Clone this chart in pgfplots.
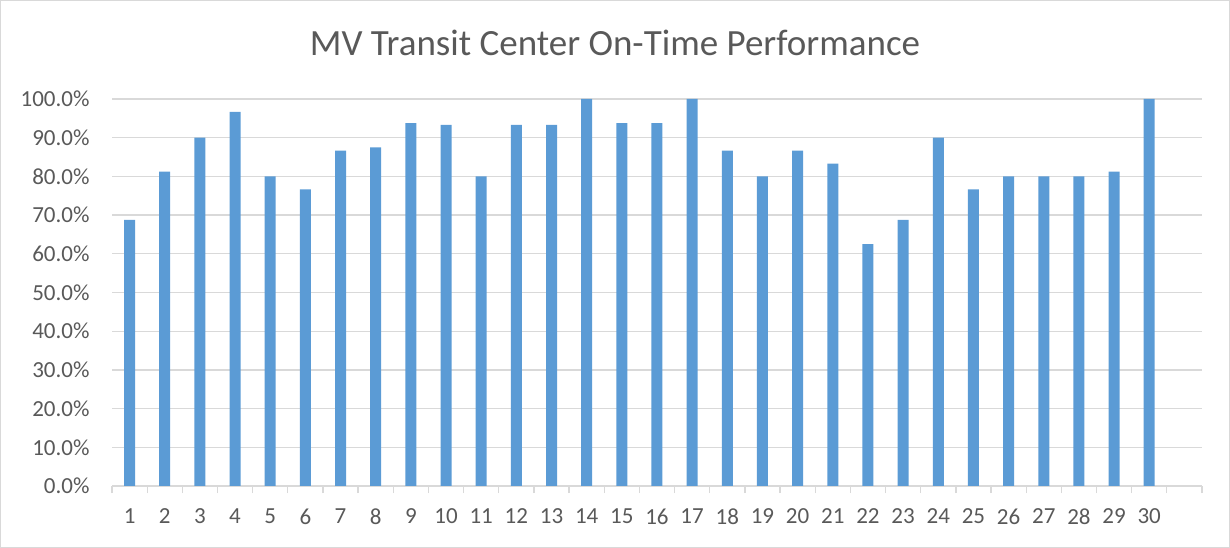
\documentclass[border=0pt]{standalone}
\usepackage{pgfplots}
\pgfplotsset{compat=1.18}
\usepackage{fontspec}
\setmainfont{Carlito}
\definecolor{barblue}{HTML}{5B9BD5}
\definecolor{gridgray}{HTML}{D9D9D9}
\definecolor{txtgray}{HTML}{595959}
\begin{document}
\begin{tikzpicture}
\useasboundingbox (0,0) rectangle (1230bp,548bp);
\draw[gridgray, line width=1.2bp] (0.6bp,0.6bp) rectangle (1229.4bp,547.4bp);
\node[anchor=base, text=txtgray, font=\fontsize{37bp}{40bp}\selectfont] at (615bp,492bp) {MV Transit Center On-Time Performance};
\begin{axis}[
  at={(112bp,62bp)}, anchor=south west,
  scale only axis, width=1090bp, height=387bp,
  xmin=0.5, xmax=31.5, ymin=0, ymax=100,
  axis x line=bottom, axis y line=left,
  x axis line style={-, draw=gridgray, line width=1.3bp},
  y axis line style={draw=none},
  xtick={1,...,30},
  minor xtick={0.5,1.5,...,31.5},
  major tick length=0pt,
  minor tick length=7bp,
  tick align=outside,
  minor x tick style={draw=gridgray, line width=1.3bp},
  ytick={0,10,...,100},
  ymajorgrids, grid style={draw=gridgray, line width=1.3bp},
  /pgf/number format/assume math mode=true,
  yticklabel={\pgfmathprintnumber[fixed,fixed zerofill,precision=1]{\tick}\%},
  ticklabel style={text=txtgray, font=\fontsize{23bp}{26bp}\selectfont},
  yticklabel style={xshift=-19bp},
  xticklabel style={yshift=-19bp},
  ybar, bar width=11bp,
]
\addplot[fill=barblue, draw=none] coordinates {
(1,68.75) (2,81.25) (3,90) (4,96.67) (5,80) (6,76.67) (7,86.67) (8,87.5) (9,93.75) (10,93.33)
(11,80) (12,93.33) (13,93.33) (14,100) (15,93.75) (16,93.75) (17,100) (18,86.67) (19,80) (20,86.67)
(21,83.33) (22,62.5) (23,68.75) (24,90) (25,76.67) (26,80) (27,80) (28,80) (29,81.25) (30,100)
};
\end{axis}
\end{tikzpicture}
\end{document}
